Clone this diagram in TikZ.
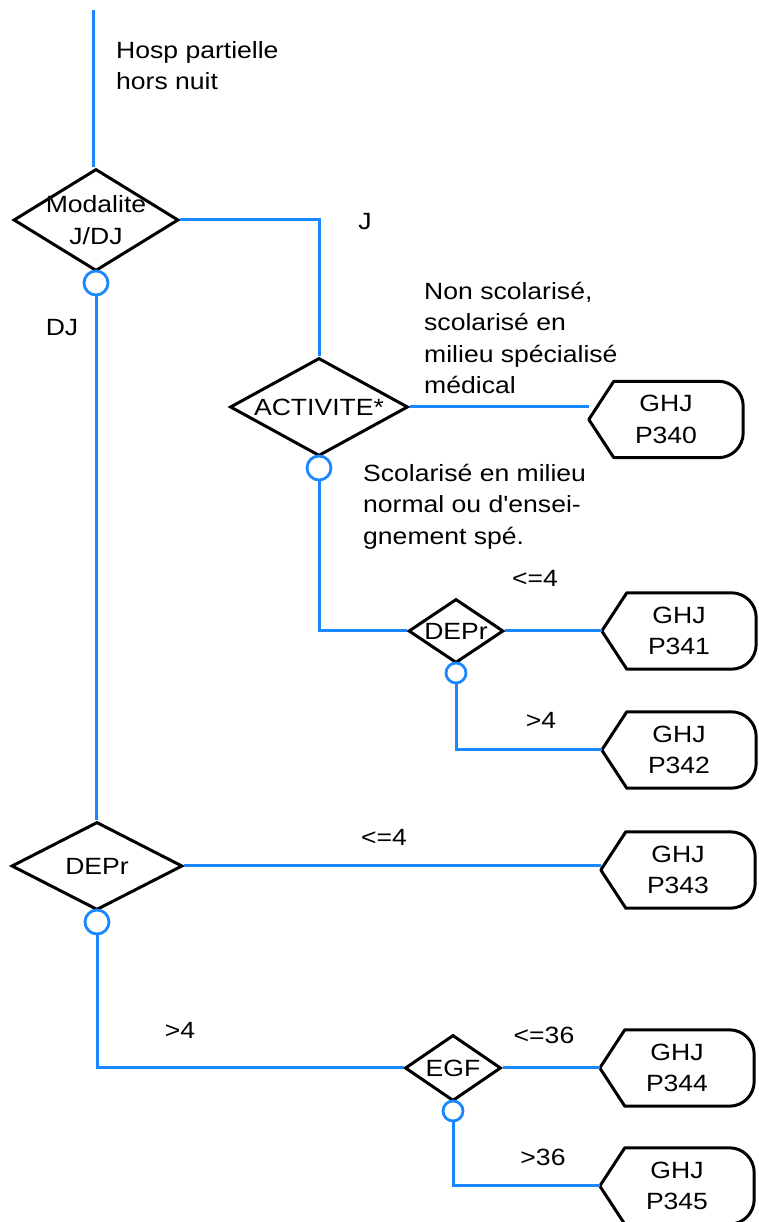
\documentclass[tikz,border=0pt]{standalone}
\usepackage{fontspec}
\setmainfont{Liberation Sans}[Ligatures=TeXOff, FakeStretch=1.13]
\usetikzlibrary{shapes.geometric}
\definecolor{flowblue}{RGB}{25,135,255}
\newcommand\lbfont{\fontsize{23.5}{31.5}\selectfont}
\newcommand\ghjoutline[1]{%
  \draw[ghjline] (#1.west) -- ([xshift=25pt]#1.north west) -- ([xshift=-25pt]#1.north east)
    .. controls ([xshift=-11pt]#1.north east) and ([yshift=-11pt]#1.north east) .. ([yshift=-25pt]#1.north east)
    -- ([yshift=25pt]#1.south east)
    .. controls ([yshift=11pt]#1.south east) and ([xshift=-11pt]#1.south east) .. ([xshift=-25pt]#1.south east)
    -- ([xshift=25pt]#1.south west) -- cycle;}
\tikzset{
  flow/.style={draw=flowblue, line width=3pt},
  decision/.style={draw=black, line width=3pt, shape=diamond, inner sep=0pt},
  joint/.style={draw=flowblue, fill=white, line width=2.8pt, circle, inner sep=0pt},
  ghj/.style={rectangle, minimum width=154pt, minimum height=76pt, inner sep=0pt, align=center, font=\lbfont},
  ghjline/.style={draw=black, line width=3pt, line join=round},
  txt/.style={inner sep=0pt, align=left, font=\lbfont},
}
\begin{document}
\begin{tikzpicture}[x=1pt,y=1pt]
\useasboundingbox (0,0) rectangle (758,1222);
% nodes
\coordinate (start) at (93,1212);
\node[decision, minimum width=165pt, minimum height=102pt, label={[font=\lbfont, align=center]center:Modalite\\J/DJ}] (d1) at (96,1002) {};
\node[joint, minimum size=24pt] (c1) at (96,939) {};
\node[decision, minimum width=178pt, minimum height=98pt, label={[font=\lbfont]center:ACTIVITE*}] (act) at (319,815) {};
\node[joint, minimum size=24pt] (c2) at (319,754) {};
\node[ghj] (p340) at (666,802.5) {GHJ\\P340};
\node[decision, minimum width=95pt, minimum height=64pt, label={[font=\lbfont]center:DEPr}] (d2) at (456,591) {};
\node[joint, minimum size=20pt] (c3) at (456,549) {};
\node[ghj] (p341) at (679,591) {GHJ\\P341};
\node[ghj] (p342) at (679,472) {GHJ\\P342};
\node[decision, minimum width=171pt, minimum height=88pt, label={[font=\lbfont]center:DEPr}] (d3) at (97,356) {};
\node[joint, minimum size=24pt] (c5) at (97,300) {};
\node[ghj] (p343) at (678,352) {GHJ\\P343};
\node[decision, minimum width=96pt, minimum height=66pt, label={[font=\lbfont]center:EGF}] (egf) at (453,154) {};
\node[joint, minimum size=20pt] (c6) at (453,111) {};
\node[ghj] (p344) at (677,154) {GHJ\\P344};
\node[ghj] (p345) at (677,36) {GHJ\\P345};
\ghjoutline{p340}
\ghjoutline{p341}
\ghjoutline{p342}
\ghjoutline{p343}
\ghjoutline{p344}
\ghjoutline{p345}
% connectors
\draw[flow] (start) -- (start |- d1.north);
\draw[flow] (d1.east) -| (act.north);
\draw[flow] (c1.south) -- (c1.south |- d3.north);
\draw[flow] (act.east) -- (act.east -| p340.west);
\draw[flow] (c2.south) |- (d2.west);
\draw[flow] (d2.east) -- (p341.west);
\draw[flow] (c3.south) |- (p342.west);
\draw[flow] (d3.east) -- (d3.east -| p343.west);
\draw[flow] (c5.south) |- (egf.west);
\draw[flow] (egf.east) -- (p344.west);
\draw[flow] (c6.south) |- (p345.west);
% labels
\node[txt, anchor=north west] (hosp) at (116,1181) {Hosp partielle\\hors nuit};
\node[txt] (lj) at (365,1000) {J};
\node[txt] (ldj) at (62,894) {DJ};
\node[txt, anchor=north west] (lnon) at (424,940) {Non scolarisé,\\scolarisé en\\milieu spécialisé\\médical};
\node[txt, anchor=north west] (lsco) at (363,758) {Scolarisé en milieu\\normal ou d'ensei-\\gnement spé.};
\node[txt] (l1) at (535,644) {<=4};
\node[txt] (l2) at (541,502) {>4};
\node[txt] (l3) at (384,385) {<=4};
\node[txt] (l4) at (180,192) {>4};
\node[txt] (l5) at (544,187) {<=36};
\node[txt] (l6) at (543,65) {>36};
\end{tikzpicture}
\end{document}
